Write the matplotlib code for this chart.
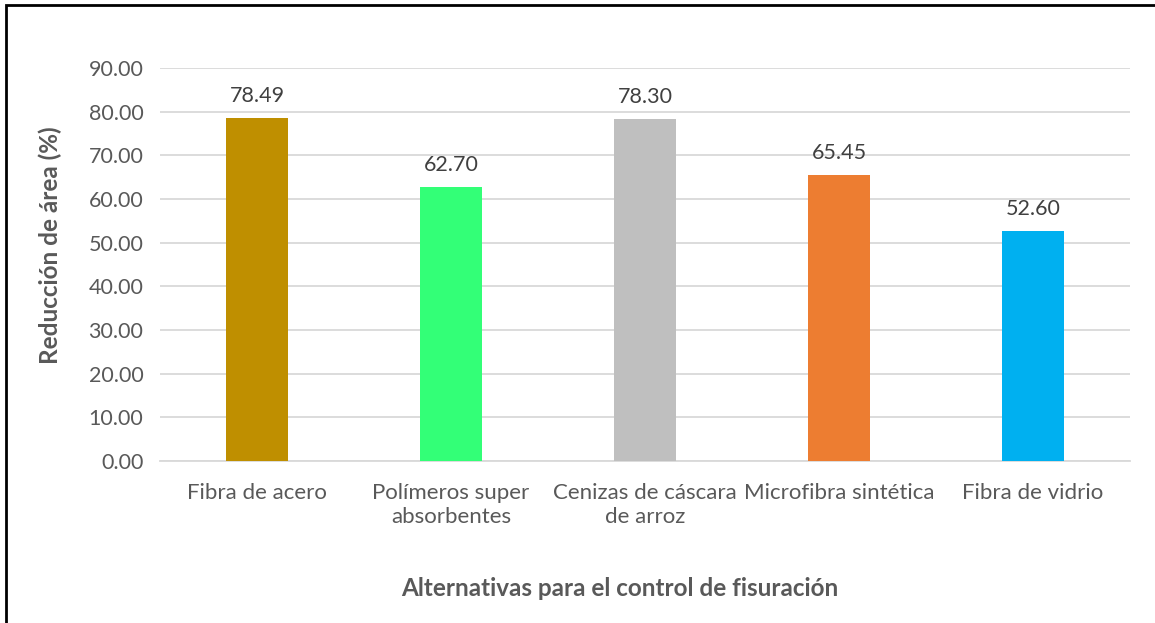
import matplotlib.pyplot as plt
from matplotlib.patches import Rectangle

# Datos del grafico
categorias = ["Fibra de acero", "Polímeros super\nabsorbentes", "Cenizas de cáscara\nde arroz",
              "Microfibra sintética", "Fibra de vidrio"]
valores = [78.49, 62.70, 78.30, 65.45, 52.60]
colores = ["#BF8F00", "#33FF77", "#BFBFBF", "#ED7D31", "#00B0F0"]
ticks_y = [0, 10, 20, 30, 40, 50, 60, 70, 80, 90]

plt.rcParams['font.family'] = ['Lato', 'DejaVu Sans']
gris = "#595959"

fig = plt.figure(figsize=(11.55, 6.23), dpi=100)
ax = fig.add_axes([160/1155, 1-461/623, 970/1155, 393/623])

x = range(len(categorias))
barras = ax.bar(x, valores, width=0.315, color=colores, zorder=3)

for i, v in enumerate(valores):
    ax.annotate(f"{v:.2f}", (i, v), xytext=(0, 9), textcoords="offset points",
                ha="center", va="bottom", fontsize=15.5, color="#404040")

ax.set_xlim(-0.5, len(categorias)-0.5)
ax.set_ylim(0, 90)
ax.set_yticks(ticks_y)
ax.set_yticklabels([f"{t:.2f}" for t in ticks_y], fontsize=15.5, color=gris)
ax.set_xticks(list(x))
ax.set_xticklabels(categorias, fontsize=16, color=gris, linespacing=1.25)
ax.tick_params(axis="both", length=0)
ax.tick_params(axis="x", pad=16)
ax.tick_params(axis="y", pad=12)
ax.yaxis.grid(True, color="#D9D9D9", linewidth=1.3, zorder=0)
for s in ["top", "right", "left"]:
    ax.spines[s].set_visible(False)
ax.spines["bottom"].set_color("#D9D9D9")
ax.spines["bottom"].set_linewidth(1.3)

fig.text(50/1155, 1-245/623, "Reducción de área (%)", rotation=90, ha="center", va="center",
         fontsize=17.5, fontweight="bold", color=gris)
fig.text(620/1155, 1-588/623, "Alternativas para el control de fisuración", ha="center", va="center",
         fontsize=17.5, fontweight="bold", color=gris)

# Borde negro del grafico
fig.patches.append(Rectangle((6/1155, -0.05), 1.1, 1-5/623+0.05, transform=fig.transFigure,
                             fill=False, edgecolor="black", linewidth=2))

fig.savefig("out.png", dpi=100)
